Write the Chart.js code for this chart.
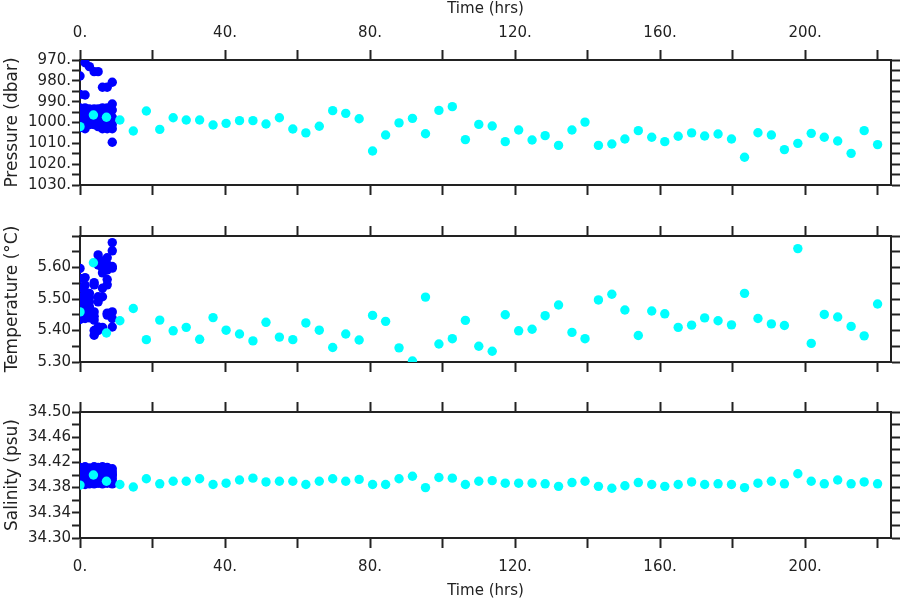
<!DOCTYPE html>
<html>
<head>
<meta charset="utf-8">
<script src="https://cdn.jsdelivr.net/npm/chart.js@4.4.0/dist/chart.umd.min.js"></script>
<style>
    body { margin: 0; background: #fff; }
    #wrap { position: relative; width: 900px; height: 600px; }
    #wrap canvas { position: absolute; left: 0; top: 0; }
</style>
</head>
<body>
<div id="wrap">
    <canvas id="pressureChart" width="900" height="600"></canvas>
    <canvas id="temperatureChart" width="900" height="600"></canvas>
    <canvas id="salinityChart" width="900" height="600"></canvas>
</div>
<script>
// cyan series: hourly-ish samples over the whole record
const cyanTime = [0, 3.7, 7.3, 11.0, 14.7, 18.3, 22.0, 25.7, 29.3, 33.0, 36.7, 40.3, 44.0, 47.7, 51.3, 55.0,
    58.7, 62.3, 66.0, 69.7, 73.3, 77.0, 80.7, 84.3, 88.0, 91.7, 95.3, 99.0, 102.7, 106.3, 110.0, 113.7,
    117.3, 121.0, 124.7, 128.3, 132.0, 135.7, 139.3, 143.0, 146.7, 150.3, 154.0, 157.7, 161.3, 165.0,
    168.7, 172.3, 176.0, 179.7, 183.3, 187.0, 190.7, 194.3, 198.0, 201.7, 205.3, 209.0, 212.7, 216.3, 220.0];
const cyanPressure = [1002.0, 996.4, 997.5, 998.8, 1004.1, 994.5, 1003.3, 997.7, 998.8, 998.8, 1001.2, 1000.4,
    999.1, 999.1, 1000.7, 997.7, 1003.1, 1005.0, 1001.8, 994.3, 995.6, 998.2, 1013.7, 1006.0, 1000.2, 998.0,
    1005.4, 994.2, 992.4, 1008.2, 1000.9, 1001.7, 1009.2, 1003.6, 1008.4, 1006.3, 1011.0, 1003.6, 999.8,
    1011.0, 1010.3, 1007.9, 1003.9, 1007.1, 1009.2, 1006.6, 1005.0, 1006.5, 1005.5, 1007.9, 1016.7, 1004.9,
    1006.0, 1013.0, 1010.0, 1005.2, 1007.1, 1008.9, 1014.8, 1003.9, 1010.6];
const cyanTemperature = [5.459, 5.615, 5.392, 5.431, 5.470, 5.371, 5.433, 5.399, 5.410, 5.372, 5.441, 5.401,
    5.389, 5.367, 5.426, 5.379, 5.371, 5.424, 5.401, 5.346, 5.389, 5.370, 5.448, 5.429, 5.345, 5.303, 5.506,
    5.357, 5.374, 5.432, 5.350, 5.334, 5.450, 5.399, 5.404, 5.447, 5.481, 5.394, 5.374, 5.497, 5.515, 5.465,
    5.384, 5.462, 5.453, 5.410, 5.417, 5.440, 5.431, 5.418, 5.518, 5.438, 5.421, 5.416, 5.660, 5.359, 5.451,
    5.443, 5.413, 5.383, 5.484];
const cyanSalinity = [34.384, 34.400, 34.390, 34.385, 34.381, 34.394, 34.386, 34.390, 34.390, 34.394, 34.385,
    34.387, 34.392, 34.395, 34.389, 34.390, 34.390, 34.385, 34.390, 34.394, 34.390, 34.393, 34.385, 34.385,
    34.394, 34.398, 34.380, 34.396, 34.395, 34.385, 34.390, 34.391, 34.387, 34.387, 34.387, 34.386, 34.382,
    34.388, 34.390, 34.382, 34.379, 34.383, 34.388, 34.385, 34.382, 34.385, 34.389, 34.385, 34.386, 34.385,
    34.380, 34.387, 34.390, 34.386, 34.402, 34.390, 34.386, 34.392, 34.386, 34.389, 34.386];

// blue series: dense burst in the first ~9 hours
const blueTime = [0, 0, 0, 0, 0, 0, 0,
    1.4, 1.4, 1.4, 1.4, 1.4, 1.4, 1.4,
    2.6, 2.6, 2.6, 2.6, 2.6, 2.6, 2.6,
    3.9, 3.9, 3.9, 3.9, 3.9, 3.9, 3.9,
    5.0, 5.0, 5.0, 5.0, 5.0, 5.0, 5.0,
    6.2, 6.2, 6.2, 6.2, 6.2, 6.2, 6.2,
    7.5, 7.5, 7.5, 7.5, 7.5, 7.5, 7.5,
    8.9, 8.9, 8.9, 8.9, 8.9, 8.9, 8.9];
const bluePressure = [977.7, 986.5, 993.0, 997.5, 1001.0, 1002.5, 995.0,
    971.3, 986.8, 993.0, 997.8, 1003.0, 1001.0, 995.0,
    973.2, 993.5, 998.0, 1001.0, 994.0, 996.0, 1000.0,
    975.6, 993.5, 999.0, 997.0, 1001.0, 994.0, 996.0,
    975.6, 993.5, 998.0, 1002.0, 996.0, 1000.0, 994.0,
    983.1, 994.0, 997.5, 1003.0, 999.0, 993.0, 1001.0,
    983.1, 993.0, 998.0, 1001.5, 996.0, 1003.0, 994.0,
    980.7, 991.1, 994.0, 1001.0, 1003.0, 1009.5, 997.5];
const blueTemperature = [5.597, 5.565, 5.535, 5.505, 5.480, 5.455, 5.435,
    5.568, 5.544, 5.523, 5.496, 5.470, 5.438, 5.450,
    5.518, 5.491, 5.475, 5.455, 5.440, 5.505, 5.462,
    5.552, 5.459, 5.433, 5.385, 5.400, 5.545, 5.445,
    5.640, 5.608, 5.507, 5.491, 5.411, 5.400, 5.620,
    5.621, 5.583, 5.534, 5.507, 5.406, 5.598, 5.410,
    5.631, 5.592, 5.562, 5.449, 5.545, 5.455, 5.610,
    5.679, 5.653, 5.603, 5.459, 5.438, 5.411, 5.598];
const blueSalinity = [34.412, 34.406, 34.400, 34.395, 34.390, 34.386, 34.403,
    34.413, 34.407, 34.401, 34.396, 34.391, 34.385, 34.398,
    34.411, 34.405, 34.399, 34.394, 34.389, 34.386, 34.402,
    34.413, 34.408, 34.402, 34.397, 34.392, 34.386, 34.404,
    34.412, 34.406, 34.400, 34.395, 34.390, 34.387, 34.403,
    34.413, 34.407, 34.401, 34.396, 34.391, 34.386, 34.399,
    34.412, 34.406, 34.400, 34.395, 34.390, 34.387, 34.402,
    34.410, 34.405, 34.399, 34.394, 34.389, 34.386, 34.401];

// axis ticks and labelled ticks
const timeTicks = [0, 20, 40, 60, 80, 100, 120, 140, 160, 180, 200, 220];
const timeLabels = [0, 40, 80, 120, 160, 200];
const pressureTicks = [970, 975, 980, 985, 990, 995, 1000, 1005, 1010, 1015, 1020, 1025, 1030];
const pressureLabels = [970, 980, 990, 1000, 1010, 1020, 1030];
const temperatureTicks = [5.30, 5.35, 5.40, 5.45, 5.50, 5.55, 5.60, 5.65, 5.70];
const temperatureLabels = [5.30, 5.40, 5.50, 5.60];
const salinityTicks = [34.30, 34.32, 34.34, 34.36, 34.38, 34.40, 34.42, 34.44, 34.46, 34.48, 34.50];
const salinityLabels = [34.30, 34.34, 34.38, 34.42, 34.46, 34.50];

const TIME_MAX = 223.7;
const AXIS = '#222';
const CYAN = '#00ffff';
const BLUE = '#0000ff';
const FONT = 'DejaVu Sans';

function zip(xs, ys) {
    return xs.map((x, i) => ({ x: x, y: ys[i] }));
}

function isLabel(list, v) {
    return list.some(l => Math.abs(l - v) < 1e-6);
}

function timeAxis(position, showLabels, boxSize) {
    return {
        type: 'linear',
        position: position,
        min: 0,
        max: TIME_MAX,
        afterBuildTicks: s => { s.ticks = timeTicks.map(v => ({ value: v })); },
        afterFit: s => { s.height = boxSize; },
        grid: { drawOnChartArea: false, drawTicks: true, tickLength: 10, tickWidth: 2, tickColor: AXIS },
        border: { display: true, color: AXIS, width: 2 },
        ticks: {
            display: showLabels,
            autoSkip: false,
            maxRotation: 0,
            padding: position === 'top' ? 8 : 10,
            color: AXIS,
            font: { family: FONT, size: 15 },
            callback: v => isLabel(timeLabels, v) ? v + '.' : ''
        },
        title: {
            display: showLabels,
            text: 'Time (hrs)',
            color: AXIS,
            font: { family: FONT, size: 15 },
            padding: 0
        }
    };
}

function valueAxis(position, cfg) {
    const left = position === 'left';
    return {
        type: 'linear',
        position: position,
        min: cfg.min,
        max: cfg.max,
        reverse: !!cfg.reverse,
        afterBuildTicks: s => { s.ticks = cfg.ticks.map(v => ({ value: v })); },
        afterFit: s => { s.width = left ? 80 : 9; },
        grid: { drawOnChartArea: false, drawTicks: true, tickLength: left ? 8 : 9, tickWidth: 2, tickColor: AXIS },
        border: { display: true, color: AXIS, width: 2 },
        ticks: {
            display: left,
            autoSkip: false,
            padding: 1,
            color: AXIS,
            font: { family: FONT, size: 15 },
            callback: v => isLabel(cfg.labels, v) ? cfg.format(v) : ''
        },
        title: {
            display: left,
            text: cfg.title,
            color: AXIS,
            font: { family: FONT, size: 17 },
            padding: { top: 2, bottom: 0 }
        }
    };
}

function makePanel(id, p) {
    const ctx = document.getElementById(id).getContext('2d');
    const dot = { pointRadius: 4.7, pointBorderWidth: 0, borderWidth: 0, clip: 0, showLine: false };
    return new Chart(ctx, {
        type: 'scatter',
        data: {
            datasets: [
                Object.assign({ data: zip(cyanTime, p.cyan), backgroundColor: CYAN, pointBackgroundColor: CYAN }, dot),
                Object.assign({ data: zip(blueTime, p.blue), backgroundColor: BLUE, pointBackgroundColor: BLUE }, dot)
            ]
        },
        options: {
            responsive: false,
            animation: false,
            devicePixelRatio: 1,
            layout: { padding: 0 },
            plugins: { legend: { display: false }, tooltip: { enabled: false } },
            scales: {
                x: timeAxis('bottom', p.bottomLabels, 600 - p.bottom),
                x2: timeAxis('top', p.topLabels, p.top),
                y: valueAxis('left', p.axis),
                y2: valueAxis('right', p.axis)
            }
        }
    });
}

makePanel('pressureChart', {
    cyan: cyanPressure, blue: bluePressure, top: 60, bottom: 185,
    topLabels: true, bottomLabels: false,
    axis: { min: 970, max: 1030, reverse: true, ticks: pressureTicks, labels: pressureLabels,
        title: 'Pressure (dbar)', format: v => v + '.' }
});

makePanel('temperatureChart', {
    cyan: cyanTemperature, blue: blueTemperature, top: 236, bottom: 362,
    topLabels: false, bottomLabels: false,
    axis: { min: 5.30, max: 5.70, ticks: temperatureTicks, labels: temperatureLabels,
        title: 'Temperature (°C)', format: v => v.toFixed(2) }
});

makePanel('salinityChart', {
    cyan: cyanSalinity, blue: blueSalinity, top: 412, bottom: 538,
    topLabels: false, bottomLabels: true,
    axis: { min: 34.30, max: 34.50, ticks: salinityTicks, labels: salinityLabels,
        title: 'Salinity (psu)', format: v => v.toFixed(2) }
});
</script>
</body>
</html>
